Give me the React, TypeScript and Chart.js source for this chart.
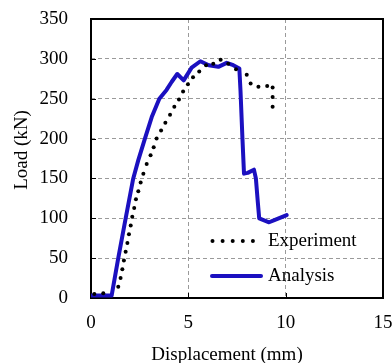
import React, { useEffect, useRef } from 'react';
import { Chart, registerables } from 'chart.js';

Chart.register(...registerables);

const FONT = "'Liberation Serif', 'Times New Roman', serif";

const xTicks = [0, 5, 10, 15];
const yTicks = [0, 50, 100, 150, 200, 250, 300, 350];

const expDisp = [0.17, 0.63, 1.4, 1.52, 1.61, 1.69, 1.78, 1.87, 1.95, 2.04, 2.12, 2.22, 2.31, 2.43, 2.55, 2.69, 2.86, 3.06, 3.22, 3.37, 3.6, 3.82, 4.06, 4.28, 4.52, 4.73, 4.98, 5.24, 5.56, 5.91, 6.28, 6.66, 7.05, 7.45, 8.0, 8.2, 8.6, 9.05, 9.33, 9.33, 9.33];
const expLoad = [5, 6, 14, 25, 36, 47, 58, 69, 80, 91, 102, 113, 124, 134, 145, 156, 168, 179, 189, 200, 210, 220, 230, 240, 249, 259, 268, 277, 284, 292, 294, 299, 294, 287, 280, 269, 265, 266, 264, 252, 240];

const anaDisp = [0, 1.06, 1.4, 1.78, 2.17, 2.43, 2.77, 3.12, 3.51, 3.88, 4.14, 4.43, 4.76, 5.17, 5.62, 6.05, 6.54, 6.97, 7.31, 7.62, 7.68, 7.78, 7.86, 8.05, 8.37, 8.47, 8.57, 8.64, 9.15, 9.45, 10.05];
const anaLoad = [3, 3, 50, 100, 150, 173, 200, 227, 250, 261, 271, 281, 273, 289, 297, 292, 290, 295, 292, 288, 260, 200, 156, 157, 161, 150, 120, 100, 95, 98, 104];

const seriesNames = ['Experiment', 'Analysis'];
const BLUE = '#1b10c0';

const decor = {
  id: 'decor',
  beforeDatasetsDraw(chart: any) {
    const { ctx, chartArea: a, scales } = chart;
    ctx.save();
    ctx.strokeStyle = '#000';
    ctx.lineWidth = 1;
    xTicks.forEach((v) => {
      const px = Math.round(scales.x.getPixelForValue(v)) + 0.5;
      ctx.beginPath();
      ctx.moveTo(px, a.bottom);
      ctx.lineTo(px, a.bottom - 5);
      ctx.stroke();
    });
    yTicks.forEach((v) => {
      const py = Math.round(scales.y.getPixelForValue(v)) + 0.5;
      ctx.beginPath();
      ctx.moveTo(a.left, py);
      ctx.lineTo(a.left + 5, py);
      ctx.stroke();
    });
    ctx.lineWidth = 2;
    ctx.strokeRect(a.left, a.top, a.right - a.left, a.bottom - a.top);
    ctx.restore();
  },
  afterDraw(chart: any) {
    const { ctx } = chart;
    ctx.save();
    ctx.fillStyle = '#000';
    ctx.font = `19px ${FONT}`;
    ctx.textBaseline = 'alphabetic';
    ctx.textAlign = 'center';
    ctx.fillText('Displacement (mm)', 227, 360);
    ctx.save();
    ctx.translate(26.5, 150);
    ctx.rotate(-Math.PI / 2);
    ctx.fillText('Load (kN)', 0, 0);
    ctx.restore();
    ctx.textAlign = 'left';
    for (let i = 0; i < 5; i++) {
      ctx.beginPath();
      ctx.arc(212.5 + i * 10.1, 241, 2, 0, Math.PI * 2);
      ctx.fill();
    }
    ctx.fillText(seriesNames[0], 268, 245.5);
    ctx.strokeStyle = BLUE;
    ctx.lineWidth = 4;
    ctx.lineCap = 'round';
    ctx.beginPath();
    ctx.moveTo(212, 276);
    ctx.lineTo(261, 276);
    ctx.stroke();
    ctx.fillText(seriesNames[1], 268, 281);
    ctx.restore();
  },
};

export default function App() {
  const ref = useRef<HTMLCanvasElement | null>(null);
  useEffect(() => {
    if (!ref.current) return;
    const expData = expDisp.map((x, i) => ({ x, y: expLoad[i] }));
    const anaData = anaDisp.map((x, i) => ({ x, y: anaLoad[i] }));
    const tickFont = { family: FONT, size: 19 };
    const chart = new Chart(ref.current, {
      type: 'scatter',
      data: {
        datasets: [
          {
            label: seriesNames[0],
            data: expData,
            showLine: false,
            pointRadius: 2,
            pointBackgroundColor: '#000',
            pointBorderWidth: 0,
            borderColor: '#000',
          },
          {
            label: seriesNames[1],
            data: anaData,
            showLine: true,
            pointRadius: 0,
            borderColor: BLUE,
            borderWidth: 4,
            tension: 0,
            borderJoinStyle: 'round',
            borderCapStyle: 'round',
          },
        ],
      },
      options: {
        animation: false,
        responsive: false,
        events: [],
        layout: { padding: { top: 19, right: 9, left: 0, bottom: 0 } },
        plugins: {
          legend: { display: false },
          tooltip: { enabled: false },
        },
        scales: {
          x: {
            type: 'linear',
            min: 0,
            max: 15,
            ticks: { stepSize: 5, font: tickFont, color: '#000', padding: 13.5 },
            grid: { color: '#9a9a9a', lineWidth: 1, drawTicks: false },
            border: { display: false, dash: [4, 3] },
            afterFit: (s: any) => {
              s.height = 65;
              s.paddingLeft = 0;
              s.paddingRight = 0;
              s.paddingTop = 0;
              s.paddingBottom = 0;
            },
          },
          y: {
            type: 'linear',
            min: 0,
            max: 350,
            ticks: { stepSize: 50, font: tickFont, color: '#000', padding: 23 },
            grid: { color: '#9a9a9a', lineWidth: 1, drawTicks: false },
            border: { display: false, dash: [4, 3] },
            afterFit: (s: any) => {
              s.width = 91;
              s.paddingLeft = 0;
              s.paddingRight = 0;
              s.paddingTop = 0;
              s.paddingBottom = 0;
            },
          },
        },
      } as any,
      plugins: [decor],
    });
    return () => chart.destroy();
  }, []);
  return (
    <div style={{ position: 'fixed', left: 0, top: 0, width: 392, height: 363, background: '#fff' }}>
      <canvas ref={ref} width={392} height={363} style={{ width: 392, height: 363, display: 'block' }} />
    </div>
  );
}
